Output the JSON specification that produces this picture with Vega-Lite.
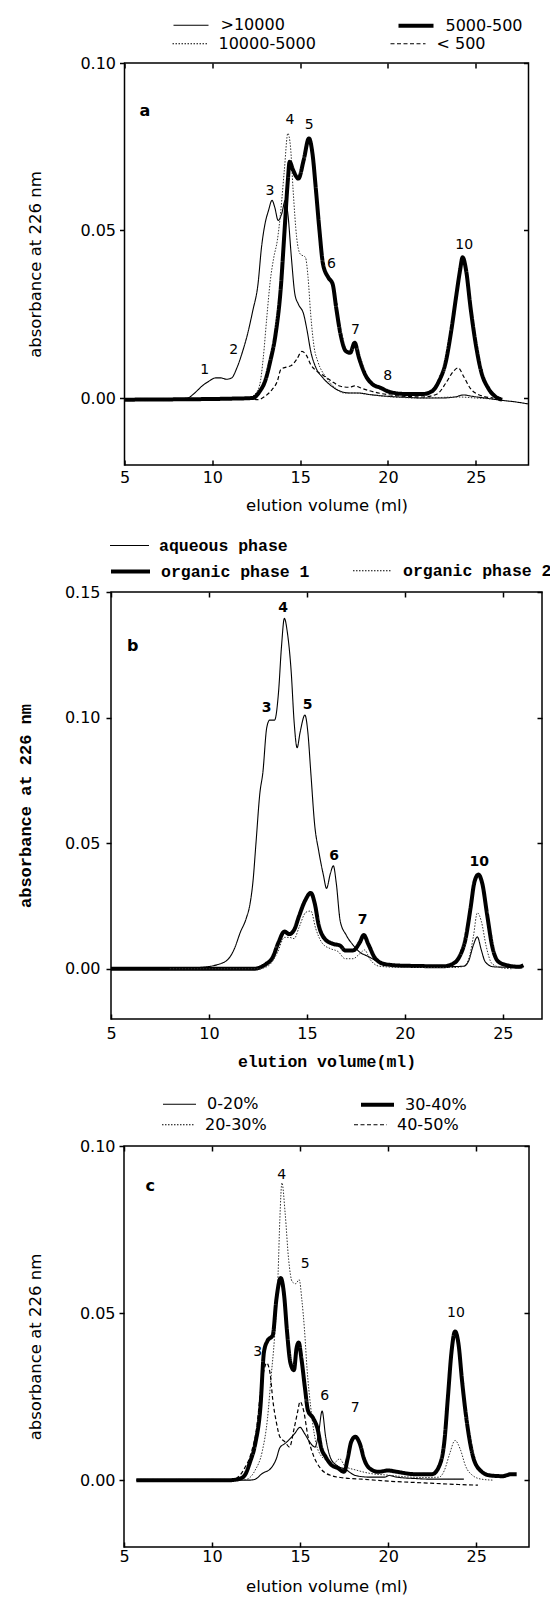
{
"$schema": "https://vega.github.io/schema/vega-lite/v6.json",
"background": "white",
"padding": {"left": 15, "top": 5, "right": 4, "bottom": 0},
"bounds": "flush",
"center": true,
"spacing": 127,
"resolve": {"scale": {"color": "independent", "strokeDash": "independent", "strokeWidth": "independent"}, "legend": {"color": "independent", "strokeDash": "independent", "strokeWidth": "independent"}},
"config": {
  "view": {"stroke": "black", "strokeWidth": 1.5},
  "axis": {"labelFont": "DejaVu Sans", "labelFontSize": 16, "titleFont": "DejaVu Sans", "titleFontSize": 16.5, "titleFontWeight": "normal", "grid": false, "domain": false, "ticks": true, "tickColor": "black", "tickWidth": 1.5, "labelColor": "black", "titleColor": "black", "labelFlush": false, "labelOverlap": false},
  "legend": {"labelColor": "black", "symbolStrokeColor": "black"}
},
"datasets": {
"A": [
{"v":5,"a":-0.0005,"s":">10000"},{"v":6,"a":-0.0005,"s":">10000"},{"v":7,"a":-0.0004,"s":">10000"},{"v":8,"a":-0.0003,"s":">10000"},{"v":8.6,"a":0.0,"s":">10000"},{"v":9.0,"a":0.0015,"s":">10000"},{"v":9.4,"a":0.0035,"s":">10000"},{"v":9.8,"a":0.005,"s":">10000"},{"v":10.2,"a":0.006,"s":">10000"},{"v":10.5,"a":0.006,"s":">10000"},{"v":10.8,"a":0.0056,"s":">10000"},{"v":11.1,"a":0.006,"s":">10000"},{"v":11.4,"a":0.009,"s":">10000"},{"v":11.7,"a":0.0135,"s":">10000"},{"v":12.0,"a":0.019,"s":">10000"},{"v":12.3,"a":0.026,"s":">10000"},{"v":12.6,"a":0.034,"s":">10000"},{"v":12.8,"a":0.045,"s":">10000"},{"v":13.0,"a":0.052,"s":">10000"},{"v":13.2,"a":0.056,"s":">10000"},{"v":13.4,"a":0.059,"s":">10000"},{"v":13.55,"a":0.057,"s":">10000"},{"v":13.75,"a":0.053,"s":">10000"},{"v":13.95,"a":0.055,"s":">10000"},{"v":14.15,"a":0.059,"s":">10000"},{"v":14.3,"a":0.055,"s":">10000"},{"v":14.5,"a":0.042,"s":">10000"},{"v":14.7,"a":0.031,"s":">10000"},{"v":14.9,"a":0.028,"s":">10000"},{"v":15.2,"a":0.025,"s":">10000"},{"v":15.4,"a":0.020,"s":">10000"},{"v":15.6,"a":0.014,"s":">10000"},{"v":15.9,"a":0.009,"s":">10000"},{"v":16.3,"a":0.006,"s":">10000"},{"v":16.8,"a":0.0035,"s":">10000"},{"v":17.3,"a":0.002,"s":">10000"},{"v":17.8,"a":0.0015,"s":">10000"},{"v":18.3,"a":0.0015,"s":">10000"},{"v":19.0,"a":0.001,"s":">10000"},{"v":20.0,"a":0.0005,"s":">10000"},{"v":21.0,"a":0.0002,"s":">10000"},{"v":22.0,"a":0.0,"s":">10000"},{"v":23.0,"a":0.0,"s":">10000"},{"v":23.8,"a":0.0003,"s":">10000"},{"v":24.3,"a":0.0009,"s":">10000"},{"v":24.8,"a":0.0005,"s":">10000"},{"v":25.5,"a":0.0,"s":">10000"},{"v":26.5,"a":-0.0007,"s":">10000"},{"v":27.3,"a":-0.0012,"s":">10000"},{"v":28.0,"a":-0.0018,"s":">10000"},
{"v":5,"a":-0.0003,"s":"10000-5000"},{"v":8,"a":-0.0003,"s":"10000-5000"},{"v":10,"a":-0.0002,"s":"10000-5000"},{"v":12.0,"a":0.0,"s":"10000-5000"},{"v":12.4,"a":0.001,"s":"10000-5000"},{"v":12.7,"a":0.004,"s":"10000-5000"},{"v":12.9,"a":0.012,"s":"10000-5000"},{"v":13.1,"a":0.024,"s":"10000-5000"},{"v":13.3,"a":0.035,"s":"10000-5000"},{"v":13.5,"a":0.042,"s":"10000-5000"},{"v":13.7,"a":0.047,"s":"10000-5000"},{"v":13.9,"a":0.056,"s":"10000-5000"},{"v":14.1,"a":0.068,"s":"10000-5000"},{"v":14.3,"a":0.079,"s":"10000-5000"},{"v":14.45,"a":0.075,"s":"10000-5000"},{"v":14.6,"a":0.062,"s":"10000-5000"},{"v":14.8,"a":0.048,"s":"10000-5000"},{"v":15.0,"a":0.043,"s":"10000-5000"},{"v":15.3,"a":0.042,"s":"10000-5000"},{"v":15.45,"a":0.036,"s":"10000-5000"},{"v":15.6,"a":0.025,"s":"10000-5000"},{"v":15.8,"a":0.015,"s":"10000-5000"},{"v":16.0,"a":0.011,"s":"10000-5000"},{"v":16.5,"a":0.006,"s":"10000-5000"},{"v":17.0,"a":0.003,"s":"10000-5000"},{"v":17.5,"a":0.0015,"s":"10000-5000"},{"v":18.0,"a":0.0015,"s":"10000-5000"},{"v":19.0,"a":0.001,"s":"10000-5000"},{"v":20.0,"a":0.0004,"s":"10000-5000"},{"v":22.0,"a":0.0,"s":"10000-5000"},{"v":24.0,"a":0.0003,"s":"10000-5000"},{"v":25.0,"a":0.0,"s":"10000-5000"},{"v":26.0,"a":-0.0003,"s":"10000-5000"},
{"v":5,"a":-0.0005,"s":"5000-500"},{"v":8,"a":-0.0004,"s":"5000-500"},{"v":11,"a":-0.0002,"s":"5000-500"},{"v":12.3,"a":0.0,"s":"5000-500"},{"v":12.7,"a":0.002,"s":"5000-500"},{"v":13.0,"a":0.005,"s":"5000-500"},{"v":13.3,"a":0.011,"s":"5000-500"},{"v":13.6,"a":0.019,"s":"5000-500"},{"v":13.9,"a":0.033,"s":"5000-500"},{"v":14.1,"a":0.049,"s":"5000-500"},{"v":14.3,"a":0.065,"s":"5000-500"},{"v":14.4,"a":0.0705,"s":"5000-500"},{"v":14.6,"a":0.068,"s":"5000-500"},{"v":14.9,"a":0.0655,"s":"5000-500"},{"v":15.2,"a":0.071,"s":"5000-500"},{"v":15.5,"a":0.0775,"s":"5000-500"},{"v":15.7,"a":0.073,"s":"5000-500"},{"v":15.9,"a":0.062,"s":"5000-500"},{"v":16.1,"a":0.050,"s":"5000-500"},{"v":16.3,"a":0.040,"s":"5000-500"},{"v":16.6,"a":0.036,"s":"5000-500"},{"v":16.85,"a":0.034,"s":"5000-500"},{"v":17.05,"a":0.027,"s":"5000-500"},{"v":17.3,"a":0.019,"s":"5000-500"},{"v":17.6,"a":0.014,"s":"5000-500"},{"v":17.85,"a":0.0135,"s":"5000-500"},{"v":18.1,"a":0.0165,"s":"5000-500"},{"v":18.35,"a":0.012,"s":"5000-500"},{"v":18.7,"a":0.007,"s":"5000-500"},{"v":19.1,"a":0.0042,"s":"5000-500"},{"v":19.6,"a":0.003,"s":"5000-500"},{"v":20.1,"a":0.0018,"s":"5000-500"},{"v":21.0,"a":0.0012,"s":"5000-500"},{"v":22.0,"a":0.0012,"s":"5000-500"},{"v":22.5,"a":0.002,"s":"5000-500"},{"v":22.9,"a":0.005,"s":"5000-500"},{"v":23.3,"a":0.011,"s":"5000-500"},{"v":23.6,"a":0.020,"s":"5000-500"},{"v":23.9,"a":0.031,"s":"5000-500"},{"v":24.1,"a":0.038,"s":"5000-500"},{"v":24.25,"a":0.042,"s":"5000-500"},{"v":24.45,"a":0.038,"s":"5000-500"},{"v":24.7,"a":0.027,"s":"5000-500"},{"v":25.0,"a":0.016,"s":"5000-500"},{"v":25.3,"a":0.008,"s":"5000-500"},{"v":25.7,"a":0.003,"s":"5000-500"},{"v":26.1,"a":0.0005,"s":"5000-500"},{"v":26.5,"a":-0.0005,"s":"5000-500"},
{"v":5,"a":-0.0003,"s":"< 500"},{"v":12.0,"a":-0.0003,"s":"< 500"},{"v":12.6,"a":-0.0005,"s":"< 500"},{"v":13.0,"a":0.0005,"s":"< 500"},{"v":13.4,"a":0.0025,"s":"< 500"},{"v":13.7,"a":0.005,"s":"< 500"},{"v":13.9,"a":0.0085,"s":"< 500"},{"v":14.2,"a":0.0092,"s":"< 500"},{"v":14.5,"a":0.0097,"s":"< 500"},{"v":14.8,"a":0.0115,"s":"< 500"},{"v":15.1,"a":0.0139,"s":"< 500"},{"v":15.35,"a":0.0128,"s":"< 500"},{"v":15.6,"a":0.0100,"s":"< 500"},{"v":15.9,"a":0.0082,"s":"< 500"},{"v":16.3,"a":0.0068,"s":"< 500"},{"v":16.8,"a":0.005,"s":"< 500"},{"v":17.3,"a":0.0035,"s":"< 500"},{"v":17.8,"a":0.0032,"s":"< 500"},{"v":18.1,"a":0.0036,"s":"< 500"},{"v":18.5,"a":0.0029,"s":"< 500"},{"v":19.2,"a":0.0018,"s":"< 500"},{"v":20.0,"a":0.0010,"s":"< 500"},{"v":21.0,"a":0.0005,"s":"< 500"},{"v":22.0,"a":0.0003,"s":"< 500"},{"v":22.8,"a":0.0012,"s":"< 500"},{"v":23.3,"a":0.0045,"s":"< 500"},{"v":23.7,"a":0.0078,"s":"< 500"},{"v":24.0,"a":0.009,"s":"< 500"},{"v":24.3,"a":0.0065,"s":"< 500"},{"v":24.7,"a":0.0028,"s":"< 500"},{"v":25.2,"a":0.0009,"s":"< 500"},{"v":26.0,"a":0.0,"s":"< 500"}
],
"LA": [{"v":9.57,"a":0.0085,"t":"1"},{"v":11.21,"a":0.0144,"t":"2"},{"v":13.28,"a":0.0617,"t":"3"},{"v":14.42,"a":0.083,"t":"4"},{"v":15.52,"a":0.0816,"t":"5"},{"v":16.78,"a":0.040,"t":"6"},{"v":18.15,"a":0.0204,"t":"7"},{"v":19.99,"a":0.0065,"t":"8"},{"v":24.34,"a":0.0456,"t":"10"}],
"PA": [{"v":6.16,"a":0.0856,"t":"a"}],
"B": [
{"v":5,"a":0,"s":"aqueous phase"},{"v":8,"a":0,"s":"aqueous phase"},{"v":9.5,"a":0.0005,"s":"aqueous phase"},{"v":10.5,"a":0.0018,"s":"aqueous phase"},{"v":11.0,"a":0.004,"s":"aqueous phase"},{"v":11.3,"a":0.008,"s":"aqueous phase"},{"v":11.6,"a":0.0145,"s":"aqueous phase"},{"v":11.9,"a":0.020,"s":"aqueous phase"},{"v":12.1,"a":0.026,"s":"aqueous phase"},{"v":12.25,"a":0.035,"s":"aqueous phase"},{"v":12.4,"a":0.050,"s":"aqueous phase"},{"v":12.6,"a":0.070,"s":"aqueous phase"},{"v":12.75,"a":0.078,"s":"aqueous phase"},{"v":12.95,"a":0.096,"s":"aqueous phase"},{"v":13.1,"a":0.099,"s":"aqueous phase"},{"v":13.35,"a":0.099,"s":"aqueous phase"},{"v":13.55,"a":0.110,"s":"aqueous phase"},{"v":13.7,"a":0.128,"s":"aqueous phase"},{"v":13.85,"a":0.1395,"s":"aqueous phase"},{"v":14.0,"a":0.134,"s":"aqueous phase"},{"v":14.2,"a":0.118,"s":"aqueous phase"},{"v":14.35,"a":0.098,"s":"aqueous phase"},{"v":14.5,"a":0.088,"s":"aqueous phase"},{"v":14.65,"a":0.094,"s":"aqueous phase"},{"v":14.9,"a":0.101,"s":"aqueous phase"},{"v":15.05,"a":0.094,"s":"aqueous phase"},{"v":15.2,"a":0.078,"s":"aqueous phase"},{"v":15.4,"a":0.057,"s":"aqueous phase"},{"v":15.6,"a":0.047,"s":"aqueous phase"},{"v":15.85,"a":0.037,"s":"aqueous phase"},{"v":16.0,"a":0.032,"s":"aqueous phase"},{"v":16.2,"a":0.038,"s":"aqueous phase"},{"v":16.35,"a":0.041,"s":"aqueous phase"},{"v":16.5,"a":0.034,"s":"aqueous phase"},{"v":16.7,"a":0.019,"s":"aqueous phase"},{"v":17.0,"a":0.0135,"s":"aqueous phase"},{"v":17.35,"a":0.0095,"s":"aqueous phase"},{"v":17.7,"a":0.0066,"s":"aqueous phase"},{"v":18.1,"a":0.005,"s":"aqueous phase"},{"v":18.6,"a":0.003,"s":"aqueous phase"},{"v":19.3,"a":0.0018,"s":"aqueous phase"},{"v":20.0,"a":0.0012,"s":"aqueous phase"},{"v":22.0,"a":0.0008,"s":"aqueous phase"},{"v":23.0,"a":0.001,"s":"aqueous phase"},{"v":23.25,"a":0.003,"s":"aqueous phase"},{"v":23.5,"a":0.0095,"s":"aqueous phase"},{"v":23.7,"a":0.0127,"s":"aqueous phase"},{"v":23.9,"a":0.0075,"s":"aqueous phase"},{"v":24.1,"a":0.0028,"s":"aqueous phase"},{"v":24.5,"a":0.0008,"s":"aqueous phase"},{"v":25.5,"a":0.0005,"s":"aqueous phase"},{"v":26.0,"a":0.0003,"s":"aqueous phase"},
{"v":5,"a":0,"s":"organic phase 1"},{"v":8,"a":0,"s":"organic phase 1"},{"v":12.3,"a":0.0,"s":"organic phase 1"},{"v":12.6,"a":0.0005,"s":"organic phase 1"},{"v":12.9,"a":0.0018,"s":"organic phase 1"},{"v":13.25,"a":0.0045,"s":"organic phase 1"},{"v":13.55,"a":0.0105,"s":"organic phase 1"},{"v":13.85,"a":0.0148,"s":"organic phase 1"},{"v":14.1,"a":0.0138,"s":"organic phase 1"},{"v":14.35,"a":0.0155,"s":"organic phase 1"},{"v":14.6,"a":0.021,"s":"organic phase 1"},{"v":14.9,"a":0.027,"s":"organic phase 1"},{"v":15.2,"a":0.0302,"s":"organic phase 1"},{"v":15.4,"a":0.026,"s":"organic phase 1"},{"v":15.6,"a":0.0175,"s":"organic phase 1"},{"v":15.9,"a":0.012,"s":"organic phase 1"},{"v":16.3,"a":0.010,"s":"organic phase 1"},{"v":16.7,"a":0.0092,"s":"organic phase 1"},{"v":16.95,"a":0.0073,"s":"organic phase 1"},{"v":17.35,"a":0.0073,"s":"organic phase 1"},{"v":17.7,"a":0.0105,"s":"organic phase 1"},{"v":17.9,"a":0.0134,"s":"organic phase 1"},{"v":18.15,"a":0.0095,"s":"organic phase 1"},{"v":18.5,"a":0.004,"s":"organic phase 1"},{"v":19.0,"a":0.0018,"s":"organic phase 1"},{"v":20.0,"a":0.0012,"s":"organic phase 1"},{"v":22.0,"a":0.001,"s":"organic phase 1"},{"v":22.4,"a":0.0018,"s":"organic phase 1"},{"v":22.8,"a":0.005,"s":"organic phase 1"},{"v":23.1,"a":0.012,"s":"organic phase 1"},{"v":23.35,"a":0.024,"s":"organic phase 1"},{"v":23.55,"a":0.0345,"s":"organic phase 1"},{"v":23.75,"a":0.0375,"s":"organic phase 1"},{"v":23.95,"a":0.034,"s":"organic phase 1"},{"v":24.2,"a":0.0215,"s":"organic phase 1"},{"v":24.45,"a":0.0093,"s":"organic phase 1"},{"v":24.75,"a":0.003,"s":"organic phase 1"},{"v":25.2,"a":0.0014,"s":"organic phase 1"},{"v":25.8,"a":0.0008,"s":"organic phase 1"},{"v":26.05,"a":0.0014,"s":"organic phase 1"},
{"v":8,"a":0,"s":"organic phase 2"},{"v":12.5,"a":0,"s":"organic phase 2"},{"v":13.0,"a":0.001,"s":"organic phase 2"},{"v":13.5,"a":0.0065,"s":"organic phase 2"},{"v":13.85,"a":0.0125,"s":"organic phase 2"},{"v":14.1,"a":0.0125,"s":"organic phase 2"},{"v":14.35,"a":0.012,"s":"organic phase 2"},{"v":14.6,"a":0.0165,"s":"organic phase 2"},{"v":14.95,"a":0.0225,"s":"organic phase 2"},{"v":15.2,"a":0.023,"s":"organic phase 2"},{"v":15.45,"a":0.016,"s":"organic phase 2"},{"v":15.8,"a":0.010,"s":"organic phase 2"},{"v":16.2,"a":0.008,"s":"organic phase 2"},{"v":16.6,"a":0.0068,"s":"organic phase 2"},{"v":16.95,"a":0.004,"s":"organic phase 2"},{"v":17.35,"a":0.004,"s":"organic phase 2"},{"v":17.7,"a":0.006,"s":"organic phase 2"},{"v":17.95,"a":0.0075,"s":"organic phase 2"},{"v":18.2,"a":0.004,"s":"organic phase 2"},{"v":18.7,"a":0.001,"s":"organic phase 2"},{"v":20.0,"a":0.0005,"s":"organic phase 2"},{"v":22.5,"a":0.0005,"s":"organic phase 2"},{"v":23.0,"a":0.001,"s":"organic phase 2"},{"v":23.3,"a":0.005,"s":"organic phase 2"},{"v":23.5,"a":0.013,"s":"organic phase 2"},{"v":23.7,"a":0.0223,"s":"organic phase 2"},{"v":23.9,"a":0.019,"s":"organic phase 2"},{"v":24.15,"a":0.009,"s":"organic phase 2"},{"v":24.45,"a":0.002,"s":"organic phase 2"},{"v":25.0,"a":0.0003,"s":"organic phase 2"},{"v":25.5,"a":0.0,"s":"organic phase 2"}
],
"LB": [{"v":12.94,"a":0.1038,"t":"3"},{"v":13.79,"a":0.1436,"t":"4"},{"v":15.04,"a":0.1049,"t":"5"},{"v":16.39,"a":0.0449,"t":"6"},{"v":17.85,"a":0.0196,"t":"7"},{"v":23.8,"a":0.0425,"t":"10"}],
"PB": [{"v":6.11,"a":0.1285,"t":"b"}],
"C": [
{"v":5.7,"a":0,"s":"0-20%"},{"v":8,"a":0,"s":"0-20%"},{"v":11.5,"a":0,"s":"0-20%"},{"v":12.1,"a":0,"s":"0-20%"},{"v":12.45,"a":0.0003,"s":"0-20%"},{"v":12.85,"a":0.002,"s":"0-20%"},{"v":13.35,"a":0.0036,"s":"0-20%"},{"v":13.65,"a":0.0064,"s":"0-20%"},{"v":13.85,"a":0.0097,"s":"0-20%"},{"v":14.15,"a":0.011,"s":"0-20%"},{"v":14.45,"a":0.0125,"s":"0-20%"},{"v":14.7,"a":0.014,"s":"0-20%"},{"v":15.0,"a":0.0158,"s":"0-20%"},{"v":15.25,"a":0.014,"s":"0-20%"},{"v":15.55,"a":0.0114,"s":"0-20%"},{"v":15.85,"a":0.0099,"s":"0-20%"},{"v":16.05,"a":0.014,"s":"0-20%"},{"v":16.25,"a":0.0207,"s":"0-20%"},{"v":16.45,"a":0.013,"s":"0-20%"},{"v":16.75,"a":0.0064,"s":"0-20%"},{"v":17.15,"a":0.0042,"s":"0-20%"},{"v":17.55,"a":0.0033,"s":"0-20%"},{"v":18.15,"a":0.0014,"s":"0-20%"},{"v":18.95,"a":0.0009,"s":"0-20%"},{"v":19.8,"a":0.0009,"s":"0-20%"},{"v":20.05,"a":0.0014,"s":"0-20%"},{"v":20.5,"a":0.0009,"s":"0-20%"},{"v":21.5,"a":0.0005,"s":"0-20%"},{"v":22.5,"a":0.0003,"s":"0-20%"},{"v":24.3,"a":0.0003,"s":"0-20%"},
{"v":5.7,"a":0,"s":"20-30%"},{"v":11.7,"a":0,"s":"20-30%"},{"v":12.0,"a":0.0003,"s":"20-30%"},{"v":12.45,"a":0.003,"s":"20-30%"},{"v":12.85,"a":0.0086,"s":"20-30%"},{"v":13.15,"a":0.0185,"s":"20-30%"},{"v":13.35,"a":0.0307,"s":"20-30%"},{"v":13.55,"a":0.0428,"s":"20-30%"},{"v":13.75,"a":0.0616,"s":"20-30%"},{"v":13.85,"a":0.078,"s":"20-30%"},{"v":13.97,"a":0.089,"s":"20-30%"},{"v":14.15,"a":0.080,"s":"20-30%"},{"v":14.35,"a":0.066,"s":"20-30%"},{"v":14.55,"a":0.0594,"s":"20-30%"},{"v":14.75,"a":0.0588,"s":"20-30%"},{"v":14.95,"a":0.060,"s":"20-30%"},{"v":15.1,"a":0.054,"s":"20-30%"},{"v":15.25,"a":0.045,"s":"20-30%"},{"v":15.4,"a":0.033,"s":"20-30%"},{"v":15.6,"a":0.022,"s":"20-30%"},{"v":15.8,"a":0.014,"s":"20-30%"},{"v":16.05,"a":0.0086,"s":"20-30%"},{"v":16.55,"a":0.0058,"s":"20-30%"},{"v":16.95,"a":0.0053,"s":"20-30%"},{"v":17.25,"a":0.0064,"s":"20-30%"},{"v":17.55,"a":0.0042,"s":"20-30%"},{"v":18.2,"a":0.003,"s":"20-30%"},{"v":19,"a":0.002,"s":"20-30%"},{"v":20,"a":0.0015,"s":"20-30%"},{"v":21,"a":0.001,"s":"20-30%"},{"v":22,"a":0.0008,"s":"20-30%"},{"v":22.9,"a":0.0009,"s":"20-30%"},{"v":23.2,"a":0.003,"s":"20-30%"},{"v":23.5,"a":0.008,"s":"20-30%"},{"v":23.8,"a":0.0119,"s":"20-30%"},{"v":24.1,"a":0.0092,"s":"20-30%"},{"v":24.4,"a":0.0042,"s":"20-30%"},{"v":24.8,"a":0.0014,"s":"20-30%"},{"v":25.3,"a":0.0003,"s":"20-30%"},{"v":26.0,"a":0.0,"s":"20-30%"},
{"v":5.7,"a":0,"s":"30-40%"},{"v":8,"a":0,"s":"30-40%"},{"v":11.0,"a":0,"s":"30-40%"},{"v":11.5,"a":0.0003,"s":"30-40%"},{"v":11.85,"a":0.0014,"s":"30-40%"},{"v":12.15,"a":0.0053,"s":"30-40%"},{"v":12.45,"a":0.0108,"s":"30-40%"},{"v":12.75,"a":0.022,"s":"30-40%"},{"v":12.95,"a":0.0384,"s":"30-40%"},{"v":13.15,"a":0.0417,"s":"30-40%"},{"v":13.45,"a":0.0434,"s":"30-40%"},{"v":13.65,"a":0.0539,"s":"30-40%"},{"v":13.9,"a":0.0605,"s":"30-40%"},{"v":14.1,"a":0.055,"s":"30-40%"},{"v":14.25,"a":0.045,"s":"30-40%"},{"v":14.45,"a":0.0351,"s":"30-40%"},{"v":14.65,"a":0.0329,"s":"30-40%"},{"v":14.8,"a":0.0395,"s":"30-40%"},{"v":14.92,"a":0.0412,"s":"30-40%"},{"v":15.08,"a":0.0362,"s":"30-40%"},{"v":15.28,"a":0.0274,"s":"30-40%"},{"v":15.45,"a":0.0208,"s":"30-40%"},{"v":15.75,"a":0.0185,"s":"30-40%"},{"v":16.0,"a":0.0152,"s":"30-40%"},{"v":16.2,"a":0.0097,"s":"30-40%"},{"v":16.45,"a":0.007,"s":"30-40%"},{"v":16.75,"a":0.0047,"s":"30-40%"},{"v":17.15,"a":0.0036,"s":"30-40%"},{"v":17.5,"a":0.0025,"s":"30-40%"},{"v":17.7,"a":0.0064,"s":"30-40%"},{"v":17.9,"a":0.0114,"s":"30-40%"},{"v":18.13,"a":0.013,"s":"30-40%"},{"v":18.4,"a":0.0108,"s":"30-40%"},{"v":18.63,"a":0.0064,"s":"30-40%"},{"v":18.93,"a":0.0036,"s":"30-40%"},{"v":19.45,"a":0.0025,"s":"30-40%"},{"v":20.0,"a":0.0029,"s":"30-40%"},{"v":20.5,"a":0.0025,"s":"30-40%"},{"v":21.5,"a":0.0018,"s":"30-40%"},{"v":22.5,"a":0.0018,"s":"30-40%"},{"v":22.9,"a":0.0042,"s":"30-40%"},{"v":23.2,"a":0.0119,"s":"30-40%"},{"v":23.4,"a":0.0252,"s":"30-40%"},{"v":23.6,"a":0.0384,"s":"30-40%"},{"v":23.8,"a":0.0445,"s":"30-40%"},{"v":24.0,"a":0.0406,"s":"30-40%"},{"v":24.2,"a":0.0296,"s":"30-40%"},{"v":24.5,"a":0.0163,"s":"30-40%"},{"v":24.8,"a":0.0075,"s":"30-40%"},{"v":25.2,"a":0.0031,"s":"30-40%"},{"v":25.8,"a":0.0014,"s":"30-40%"},{"v":26.5,"a":0.0012,"s":"30-40%"},{"v":27.0,"a":0.0018,"s":"30-40%"},{"v":27.3,"a":0.0018,"s":"30-40%"},
{"v":11.0,"a":0,"s":"40-50%"},{"v":11.3,"a":0.0003,"s":"40-50%"},{"v":11.85,"a":0.0036,"s":"40-50%"},{"v":12.25,"a":0.0086,"s":"40-50%"},{"v":12.55,"a":0.0163,"s":"40-50%"},{"v":12.75,"a":0.0263,"s":"40-50%"},{"v":12.95,"a":0.0329,"s":"40-50%"},{"v":13.1,"a":0.0351,"s":"40-50%"},{"v":13.3,"a":0.0318,"s":"40-50%"},{"v":13.45,"a":0.024,"s":"40-50%"},{"v":13.65,"a":0.0174,"s":"40-50%"},{"v":13.85,"a":0.013,"s":"40-50%"},{"v":14.15,"a":0.0114,"s":"40-50%"},{"v":14.4,"a":0.0099,"s":"40-50%"},{"v":14.65,"a":0.0152,"s":"40-50%"},{"v":14.85,"a":0.0202,"s":"40-50%"},{"v":15.0,"a":0.0235,"s":"40-50%"},{"v":15.2,"a":0.0208,"s":"40-50%"},{"v":15.45,"a":0.013,"s":"40-50%"},{"v":15.75,"a":0.0075,"s":"40-50%"},{"v":16.15,"a":0.0036,"s":"40-50%"},{"v":16.75,"a":0.0014,"s":"40-50%"},{"v":17.45,"a":0.0007,"s":"40-50%"},{"v":18.5,"a":0.0003,"s":"40-50%"},{"v":20.0,"a":-0.0003,"s":"40-50%"},{"v":22.0,"a":-0.0008,"s":"40-50%"},{"v":24.0,"a":-0.0013,"s":"40-50%"},{"v":25.1,"a":-0.0015,"s":"40-50%"}
],
"LC": [{"v":12.6,"a":0.0384,"t":"3"},{"v":13.96,"a":0.0912,"t":"4"},{"v":15.29,"a":0.0647,"t":"5"},{"v":16.4,"a":0.0252,"t":"6"},{"v":18.13,"a":0.0216,"t":"7"},{"v":23.85,"a":0.05,"t":"10"}],
"PC": [{"v":6.49,"a":0.088,"t":"c"}]
},
"vconcat": [
{
  "width": 404, "height": 402,
  "resolve": {"axis": {"x": "independent", "y": "independent"}},
  "layer": [
    {
      "data": {"name": "A"},
      "mark": {"type": "line", "interpolate": "monotone"},
      "encoding": {
        "x": {"field": "v", "type": "quantitative", "scale": {"domain": [5, 28], "nice": false, "zero": false}, "axis": {"values": [5,10,15,20,25], "title": "elution volume (ml)", "tickSize": -5, "labelPadding": 9, "titlePadding": 12}},
        "y": {"field": "a", "type": "quantitative", "scale": {"domain": [-0.02, 0.10], "nice": false, "zero": false}, "axis": {"values": [0, 0.05, 0.1], "format": ".2f", "title": "absorbance at 226 nm", "tickSize": 5, "labelPadding": 4, "titlePadding": 36}},
        "color": {"field": "s", "type": "nominal", "scale": {"domain": ["10000-5000", ">10000", "5000-500", "< 500"], "range": ["#333333", "black", "black", "black"]}, "legend": null},
        "strokeWidth": {"field": "s", "type": "nominal", "scale": {"type": "ordinal", "domain": [">10000", "5000-500", "10000-5000", "< 500"], "range": [1.1, 4, 1, 1.2]}, "legend": {"values": [">10000", "5000-500"], "title": null, "orient": "none", "direction": "vertical", "columns": 2, "legendX": 47, "legendY": -57, "columnPadding": 105, "padding": 0, "symbolType": "stroke", "symbolSize": 1225, "symbolStrokeColor": "black", "labelFont": "DejaVu Sans", "labelFontSize": 16, "labelOffset": 10, "encode": {"symbols": {"update": {"stroke": {"value": "black"}}}}}},
        "strokeDash": {"field": "s", "type": "nominal", "scale": {"domain": [">10000", "10000-5000", "5000-500", "< 500"], "range": [[1, 0], [1.5, 1.5], [1, 0], [4, 2.5]]}, "legend": {"values": ["10000-5000", "< 500"], "title": null, "orient": "none", "direction": "vertical", "columns": 2, "legendX": 47, "legendY": -38, "columnPadding": 71, "padding": 0, "symbolType": "stroke", "symbolSize": 1225, "labelFont": "DejaVu Sans", "labelFontSize": 16, "labelOffset": 10, "encode": {"symbols": {"update": {"strokeWidth": {"value": 1.1}, "stroke": {"value": "black"}}}}}}
      }
    },
    {
      "data": {"name": "LA"},
      "mark": {"type": "text", "font": "DejaVu Sans", "fontSize": 14, "align": "center", "baseline": "middle", "color": "black"},
      "encoding": {
        "x": {"field": "v", "type": "quantitative", "scale": {"domain": [5, 28], "nice": false, "zero": false}, "axis": null},
        "y": {"field": "a", "type": "quantitative", "scale": {"domain": [-0.02, 0.10], "nice": false, "zero": false}, "axis": null},
        "text": {"field": "t"}
      }
    },
    {
      "data": {"name": "PA"},
      "mark": {"type": "text", "font": "DejaVu Sans", "fontSize": 16, "fontWeight": "bold", "align": "center", "baseline": "middle", "color": "black"},
      "encoding": {
        "x": {"field": "v", "type": "quantitative", "scale": {"domain": [5, 28], "nice": false, "zero": false}, "axis": null},
        "y": {"field": "a", "type": "quantitative", "scale": {"domain": [-0.02, 0.10], "nice": false, "zero": false}, "axis": null},
        "text": {"field": "t"}
      }
    },
    {
      "data": {"name": "PA"},
      "mark": {"type": "point", "opacity": 0},
      "encoding": {
        "x": {"field": "v", "type": "quantitative", "scale": {"domain": [5, 28], "nice": false, "zero": false}, "axis": {"orient": "top", "values": [5,10,15,20,25], "labels": false, "title": null, "tickSize": -5}},
        "y": {"field": "a", "type": "quantitative", "scale": {"domain": [-0.02, 0.10], "nice": false, "zero": false}, "axis": {"orient": "right", "values": [0, 0.05, 0.1], "labels": false, "title": null, "tickSize": -5}}
      }
    }
  ]
},
{
  "width": 431, "height": 427,
  "resolve": {"axis": {"x": "independent", "y": "independent"}},
  "layer": [
    {
      "data": {"name": "B"},
      "mark": {"type": "line", "interpolate": "monotone"},
      "encoding": {
        "x": {"field": "v", "type": "quantitative", "scale": {"domain": [5, 27], "nice": false, "zero": false}, "axis": {"values": [5,10,15,20,25], "title": "elution volume(ml)", "titleFont": "Liberation Mono", "titleFontWeight": "bold", "titleFontSize": 16.5, "tickSize": -5, "labelPadding": 11, "titlePadding": 12}},
        "y": {"field": "a", "type": "quantitative", "scale": {"domain": [-0.02, 0.15], "nice": false, "zero": false}, "axis": {"values": [0, 0.05, 0.1, 0.15], "format": ".2f", "title": "absorbance at 226 nm", "titleFont": "Liberation Mono", "titleFontWeight": "bold", "titleFontSize": 17, "tickSize": 5, "labelPadding": 6, "titlePadding": 30}},
        "color": {"field": "s", "type": "nominal", "scale": {"domain": ["aqueous phase", "organic phase 1", "organic phase 2"], "range": ["black", "black", "#333333"]}, "legend": {"values": ["aqueous phase"], "title": null, "orient": "none", "direction": "vertical", "legendX": -2, "legendY": -67, "padding": 0, "symbolType": "stroke", "symbolSize": 1521, "labelFont": "Liberation Mono", "labelFontWeight": "bold", "labelFontSize": 16.5, "labelOffset": 9, "encode": {"symbols": {"update": {"strokeWidth": {"value": 1.1}, "stroke": {"value": "black"}}}}}},
        "strokeWidth": {"field": "s", "type": "nominal", "scale": {"type": "ordinal", "domain": ["organic phase 1", "organic phase 2", "aqueous phase"], "range": [4, 1, 1.1]}, "legend": {"values": ["organic phase 1", "organic phase 2"], "title": null, "orient": "none", "direction": "vertical", "columns": 2, "legendX": -2, "legendY": -42, "columnPadding": 41, "padding": 0, "symbolType": "stroke", "symbolSize": 1521, "symbolStrokeColor": "black", "labelFont": "Liberation Mono", "labelFontWeight": "bold", "labelFontSize": 16.5, "labelOffset": 9, "encode": {"symbols": {"update": {"strokeDash": {"signal": "datum.value === 'organic phase 2' ? [1.5, 1.5] : [1, 0]"}, "stroke": {"value": "black"}}}}}},
        "strokeDash": {"field": "s", "type": "nominal", "scale": {"domain": ["organic phase 2", "organic phase 1", "aqueous phase"], "range": [[1.5, 1.5], [1, 0], [1, 0]]}, "legend": null}
      }
    },
    {
      "data": {"name": "LB"},
      "mark": {"type": "text", "font": "DejaVu Sans", "fontSize": 14, "fontWeight": "bold", "align": "center", "baseline": "middle", "color": "black"},
      "encoding": {
        "x": {"field": "v", "type": "quantitative", "scale": {"domain": [5, 27], "nice": false, "zero": false}, "axis": null},
        "y": {"field": "a", "type": "quantitative", "scale": {"domain": [-0.02, 0.15], "nice": false, "zero": false}, "axis": null},
        "text": {"field": "t"}
      }
    },
    {
      "data": {"name": "PB"},
      "mark": {"type": "text", "font": "DejaVu Sans", "fontSize": 16, "fontWeight": "bold", "align": "center", "baseline": "middle", "color": "black"},
      "encoding": {
        "x": {"field": "v", "type": "quantitative", "scale": {"domain": [5, 27], "nice": false, "zero": false}, "axis": null},
        "y": {"field": "a", "type": "quantitative", "scale": {"domain": [-0.02, 0.15], "nice": false, "zero": false}, "axis": null},
        "text": {"field": "t"}
      }
    },
    {
      "data": {"name": "PB"},
      "mark": {"type": "point", "opacity": 0},
      "encoding": {
        "x": {"field": "v", "type": "quantitative", "scale": {"domain": [5, 27], "nice": false, "zero": false}, "axis": {"orient": "top", "values": [5,10,15,20,25], "labels": false, "title": null, "tickSize": -5}},
        "y": {"field": "a", "type": "quantitative", "scale": {"domain": [-0.02, 0.15], "nice": false, "zero": false}, "axis": {"orient": "right", "values": [0, 0.05, 0.1, 0.15], "labels": false, "title": null, "tickSize": -5}}
      }
    }
  ]
},
{
  "width": 405, "height": 401,
  "resolve": {"axis": {"x": "independent", "y": "independent"}},
  "layer": [
    {
      "data": {"name": "C"},
      "mark": {"type": "line", "interpolate": "monotone"},
      "encoding": {
        "x": {"field": "v", "type": "quantitative", "scale": {"domain": [5, 28], "nice": false, "zero": false}, "axis": {"values": [5,10,15,20,25], "title": "elution volume (ml)", "tickSize": -5, "labelPadding": 6, "titlePadding": 14}},
        "y": {"field": "a", "type": "quantitative", "scale": {"domain": [-0.02, 0.10], "nice": false, "zero": false}, "axis": {"values": [0, 0.05, 0.1], "format": ".2f", "title": "absorbance at 226 nm", "tickSize": 5, "labelPadding": 4, "titlePadding": 36}},
        "color": {"field": "s", "type": "nominal", "scale": {"domain": ["20-30%", "0-20%", "30-40%", "40-50%"], "range": ["#333333", "black", "black", "black"]}, "legend": null},
        "strokeWidth": {"field": "s", "type": "nominal", "scale": {"type": "ordinal", "domain": ["0-20%", "30-40%", "20-30%", "40-50%"], "range": [1.1, 4, 1, 1.2]}, "legend": {"values": ["0-20%", "30-40%"], "title": null, "orient": "none", "direction": "vertical", "columns": 2, "legendX": 37, "legendY": -60, "columnPadding": 94, "padding": 0, "symbolType": "stroke", "symbolSize": 1089, "symbolStrokeColor": "black", "labelFont": "DejaVu Sans", "labelFontSize": 16, "labelOffset": 9, "encode": {"symbols": {"update": {"stroke": {"value": "black"}}}}}},
        "strokeDash": {"field": "s", "type": "nominal", "scale": {"domain": ["0-20%", "20-30%", "30-40%", "40-50%"], "range": [[1, 0], [1.5, 1.5], [1, 0], [4, 2.5]]}, "legend": {"values": ["20-30%", "40-50%"], "title": null, "orient": "none", "direction": "vertical", "columns": 2, "legendX": 37, "legendY": -39, "columnPadding": 84, "padding": 0, "symbolType": "stroke", "symbolSize": 1089, "labelFont": "DejaVu Sans", "labelFontSize": 16, "labelOffset": 9, "encode": {"symbols": {"update": {"strokeWidth": {"value": 1.1}, "stroke": {"value": "black"}}}}}}
      }
    },
    {
      "data": {"name": "LC"},
      "mark": {"type": "text", "font": "DejaVu Sans", "fontSize": 14, "align": "center", "baseline": "middle", "color": "black"},
      "encoding": {
        "x": {"field": "v", "type": "quantitative", "scale": {"domain": [5, 28], "nice": false, "zero": false}, "axis": null},
        "y": {"field": "a", "type": "quantitative", "scale": {"domain": [-0.02, 0.10], "nice": false, "zero": false}, "axis": null},
        "text": {"field": "t"}
      }
    },
    {
      "data": {"name": "PC"},
      "mark": {"type": "text", "font": "DejaVu Sans", "fontSize": 16, "fontWeight": "bold", "align": "center", "baseline": "middle", "color": "black"},
      "encoding": {
        "x": {"field": "v", "type": "quantitative", "scale": {"domain": [5, 28], "nice": false, "zero": false}, "axis": null},
        "y": {"field": "a", "type": "quantitative", "scale": {"domain": [-0.02, 0.10], "nice": false, "zero": false}, "axis": null},
        "text": {"field": "t"}
      }
    },
    {
      "data": {"name": "PC"},
      "mark": {"type": "point", "opacity": 0},
      "encoding": {
        "x": {"field": "v", "type": "quantitative", "scale": {"domain": [5, 28], "nice": false, "zero": false}, "axis": {"orient": "top", "values": [5,10,15,20,25], "labels": false, "title": null, "tickSize": -5}},
        "y": {"field": "a", "type": "quantitative", "scale": {"domain": [-0.02, 0.10], "nice": false, "zero": false}, "axis": {"orient": "right", "values": [0, 0.05, 0.1], "labels": false, "title": null, "tickSize": -5}}
      }
    }
  ]
}
]
}
